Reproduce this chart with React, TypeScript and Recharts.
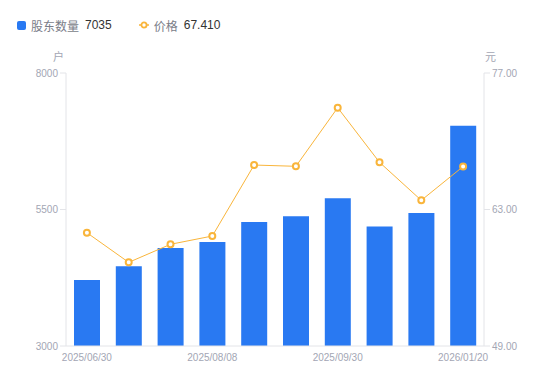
import { ComposedChart, Bar, Line, XAxis, YAxis } from 'recharts';

const dates = [
  '2025/06/30', '2025/07/10', '2025/07/20', '2025/08/08', '2025/08/20',
  '2025/08/29', '2025/09/30', '2025/10/20', '2025/12/31', '2026/01/20',
];
const holders = [4210, 4460, 4795, 4905, 5270, 5375, 5705, 5190, 5435, 7035];
const prices = [60.62, 57.58, 59.43, 60.28, 67.56, 67.43, 73.44, 67.84, 63.94, 67.41];
const holderTicks = [3000, 5500, 8000];
const priceTicks = [49, 63, 77];

const data = dates.map((d, i) => ({ date: d, holders: holders[i], price: prices[i] }));

const BLUE = '#2979f2';
const ORANGE = '#f9b53b';
const GREY = '#a3a6b4';
const FONT = '"Liberation Sans", "Noto Sans CJK SC", sans-serif';
const tickStyle = { fill: GREY, fontSize: 10, fontFamily: FONT };

const Legend = () => (
  <div style={{ position: 'absolute', left: 17, top: 17, height: 16, display: 'flex', alignItems: 'center', fontSize: 12, fontFamily: FONT }}>
    <span style={{ width: 9, height: 9, background: BLUE, borderRadius: 2, display: 'inline-block' }} />
    <span style={{ marginLeft: 5, color: '#7a7d88' }}>股东数量</span>
    <span style={{ marginLeft: 6, color: '#333' }}>7035</span>
    <svg width={10} height={10} style={{ marginLeft: 27 }}>
      <line x1={0} y1={5} x2={10} y2={5} stroke={ORANGE} strokeWidth={1.5} />
      <circle cx={5} cy={5} r={2.6} fill="#fff" stroke={ORANGE} strokeWidth={1.8} />
    </svg>
    <span style={{ marginLeft: 5, color: '#7a7d88' }}>价格</span>
    <span style={{ marginLeft: 6, color: '#333' }}>67.410</span>
  </div>
);

const App = () => {
  return (
    <div style={{ position: 'absolute', left: 0, top: 0, width: 550, height: 381, background: '#fff', fontFamily: FONT }}>
      <Legend />
      <div style={{ position: 'absolute', left: 53, top: 51, fontSize: 11, lineHeight: '12px', color: GREY }}>户</div>
      <div style={{ position: 'absolute', left: 485, top: 51, fontSize: 11, lineHeight: '12px', color: GREY }}>元</div>
      <ComposedChart width={550} height={381} data={data} margin={{ top: 73, right: 6, left: 6, bottom: 10 }}>
        <XAxis
          dataKey="date"
          interval={2}
          height={25}
          axisLine={{ stroke: '#e3e4e8' }}
          tickLine={false}
          tick={tickStyle}
        />
        <YAxis
          yAxisId="left"
          width={60}
          domain={[3000, 8000]}
          ticks={holderTicks}
          axisLine={{ stroke: '#e3e4e8' }}
          tickLine={{ stroke: '#e3e4e8' }}
          tick={tickStyle}
        />
        <YAxis
          yAxisId="right"
          orientation="right"
          width={60}
          domain={[49, 77]}
          ticks={priceTicks}
          tickFormatter={(v) => v.toFixed(2)}
          axisLine={{ stroke: '#e3e4e8' }}
          tickLine={{ stroke: '#e3e4e8' }}
          tick={tickStyle}
        />
        <Bar yAxisId="left" dataKey="holders" fill={BLUE} barSize={26} isAnimationActive={false} />
        <Line
          yAxisId="right"
          dataKey="price"
          stroke={ORANGE}
          strokeWidth={1}
          dot={{ r: 3, fill: '#fff', stroke: ORANGE, strokeWidth: 2 }}
          isAnimationActive={false}
        />
      </ComposedChart>
    </div>
  );
};

export default App;
